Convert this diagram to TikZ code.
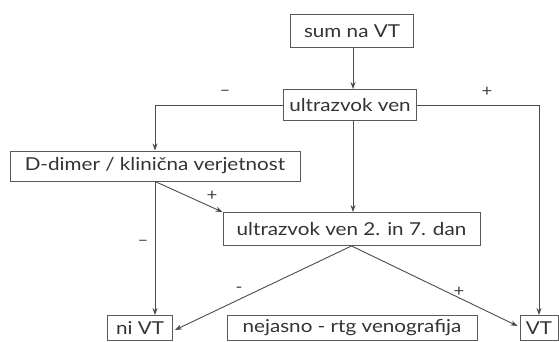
\documentclass[tikz,border=0pt]{standalone}
\usepackage{fontspec}
\setmainfont{Lato}[FakeStretch=1.16]
\usetikzlibrary{arrows.meta,calc}
\begin{document}
\begin{tikzpicture}[x=1pt,y=-1pt,
  box/.style={draw=black!65,line width=0.9pt,text=black!80,font=\fontsize{17.8}{20}\selectfont,inner sep=0pt,anchor=center},
  conn/.style={draw=black!70,line width=0.9pt,-{Stealth[length=7pt,width=5pt]}},
  sgn/.style={text=black!75,font=\fontsize{16}{18}\selectfont,inner sep=0pt}]
\useasboundingbox (0,0) rectangle (559,341);
\node[box,minimum width=123pt,minimum height=33pt] (sum) at (352,31) {sum na VT};
\node[box,minimum width=133pt,minimum height=31pt] (us) at (350,105) {ultrazvok ven};
\node[box,minimum width=290pt,minimum height=30pt] (dd) at (155,166) {D-dimer / klinična verjetnost};
\node[box,minimum width=257pt,minimum height=33pt] (us2) at (351.5,229) {ultrazvok ven 2. in 7. dan};
\node[box,minimum width=65pt,minimum height=25pt] (ni) at (140,328) {ni VT};
\node[box,minimum width=250pt,minimum height=25pt] (nej) at (352,328) {nejasno - rtg venografija};
\node[box,minimum width=38pt,minimum height=25pt] (vt) at (539,328) {VT};
\coordinate (usb) at (353,121);
\draw[conn] (sum.south -| usb) -- (us.north -| usb);
\draw[conn] (us.west) -| (dd.north);
\draw[conn] (us.east) -| (vt.north);
\draw[conn] (usb) -- (us2.north -| usb);
\draw[conn] (dd.south) -- (us2.north west);
\draw[conn] (dd.south) -- (dd.south |- ni.north);
\draw[conn] (us2.south) -- ($(ni.east)+(2,2)$);
\draw[conn] (us2.south) -- ($(vt.west)+(-2,-2)$);
\node[sgn] (m1) at (225,93) {–};
\node[sgn] (p1) at (487,92) {+};
\node[sgn] (p2) at (212,196) {+};
\node[sgn] (m2) at (143,243) {–};
\node[sgn] (m3) at (239,290) {-};
\node[sgn] (p3) at (459,292) {+};
\end{tikzpicture}
\end{document}
